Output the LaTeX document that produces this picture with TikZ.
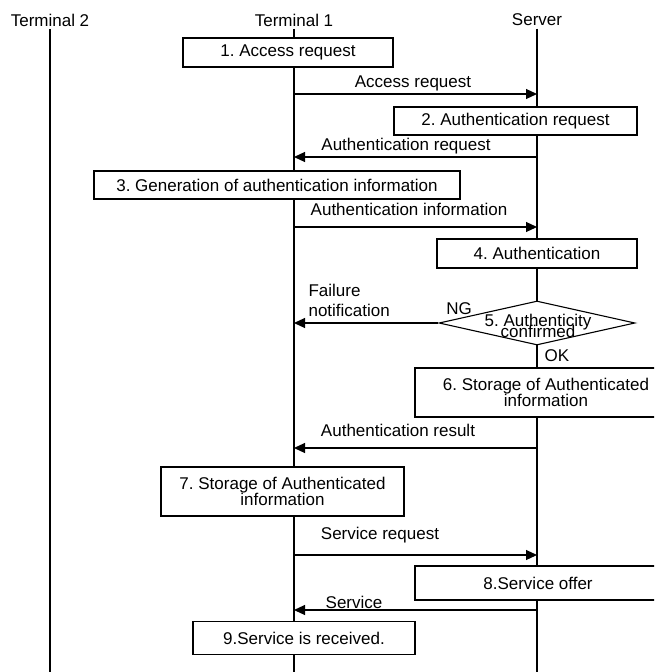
\documentclass[tikz,border=0pt]{standalone}
\usepackage{fontspec}
\setmainfont{Liberation Sans}
\usetikzlibrary{arrows.meta, shapes.geometric}
\frenchspacing

\begin{document}
\begin{tikzpicture}[x=1pt, y=-1pt, line width=1.1pt,
    font=\fontsize{17pt}{16.5pt}\selectfont,
    head/.style={inner sep=2pt},
    box/.style={draw, fill=white, inner sep=0pt, align=center},
    cond/.style={draw, fill=white, diamond, inner sep=0pt, minimum width=196pt, minimum height=44pt},
    msg/.style={-{Triangle[length=11pt, width=10pt]}},
    lbl/.style={inner sep=0pt, text height=12pt, text depth=3.5pt}]
    \useasboundingbox (0,0) rectangle (654,672);
    \clip (0,0) rectangle (654,672);

    \node[head] (t2) at (50,20) {Terminal 2};
    \node[head] (t1) at (294,20) {Terminal 1};
    \node[head] (srv) at (537,20) {Server};
    \coordinate (bot) at (0,672);
    \draw (t2.south) -- (t2.south |- bot);
    \draw (t1.south) -- (t1.south |- bot);
    \draw (srv.south) -- (srv.south |- bot);

    \foreach \n/\y in {acc/94, areq/157, ainf/227, ares/448, sreq/555, svc/610} {
        \coordinate (\n-t) at (294,\y);
        \coordinate (\n-s) at (537,\y);
    }

    \node[box, minimum width=210pt, minimum height=29pt] (b1) at (288,52.5) {1. Access request};
    \draw[msg] (acc-t) -- (acc-s);
    \node[lbl] (accl) at (413,83) {Access request};

    \node[box, minimum width=243pt, minimum height=28pt] (b2) at (515.5,121) {2. Authentication request};
    \draw[msg] (areq-s) -- (areq-t);
    \node[lbl] (areql) at (406,146) {Authentication request};

    \node[box, minimum width=366pt, minimum height=28pt] (b3) at (277,185) {3. Generation of authentication information};
    \draw[msg] (ainf-t) -- (ainf-s);
    \node[lbl] (ainfl) at (409,211) {Authentication information};

    \node[box, minimum width=200pt, minimum height=29pt] (b4) at (537,253.5) {4. Authentication};

    \node[cond] (chk) at (537,323) {};
    \node[align=center, inner sep=0pt] (chkl) at (538,326) {5. Authenticity\\[-6pt]confirmed};
    \draw[msg] (chk.west) -- (chk.west -| t1);
    \node[align=left, anchor=west, inner sep=0pt] (fail) at (308,300) {Failure\\[3.5pt]notification};
    \node[lbl] (ng) at (459,310) {NG};
    \node[lbl] (ok) at (557,357) {OK};

    \node[box, minimum width=262pt, minimum height=49pt] (b6) at (546,392.5) {6. Storage of Authenticated\\information};
    \draw[msg] (ares-s) -- (ares-t);
    \node[lbl] (aresl) at (398,432) {Authentication result};

    \node[box, minimum width=243pt, minimum height=49pt] (b7) at (282.5,491.5) {7. Storage of Authenticated\\information};
    \draw[msg] (sreq-t) -- (sreq-s);
    \node[lbl] (sreql) at (380,535) {Service request};

    \node[box, minimum width=246pt, minimum height=34pt] (b8) at (538,583) {8.Service offer};
    \draw[msg] (svc-s) -- (svc-t);
    \node[lbl] (svcl) at (354,604) {Service};

    \node[box, minimum width=222pt, minimum height=33pt] (b9) at (304,638) {9.Service is received.};
\end{tikzpicture}
\end{document}
